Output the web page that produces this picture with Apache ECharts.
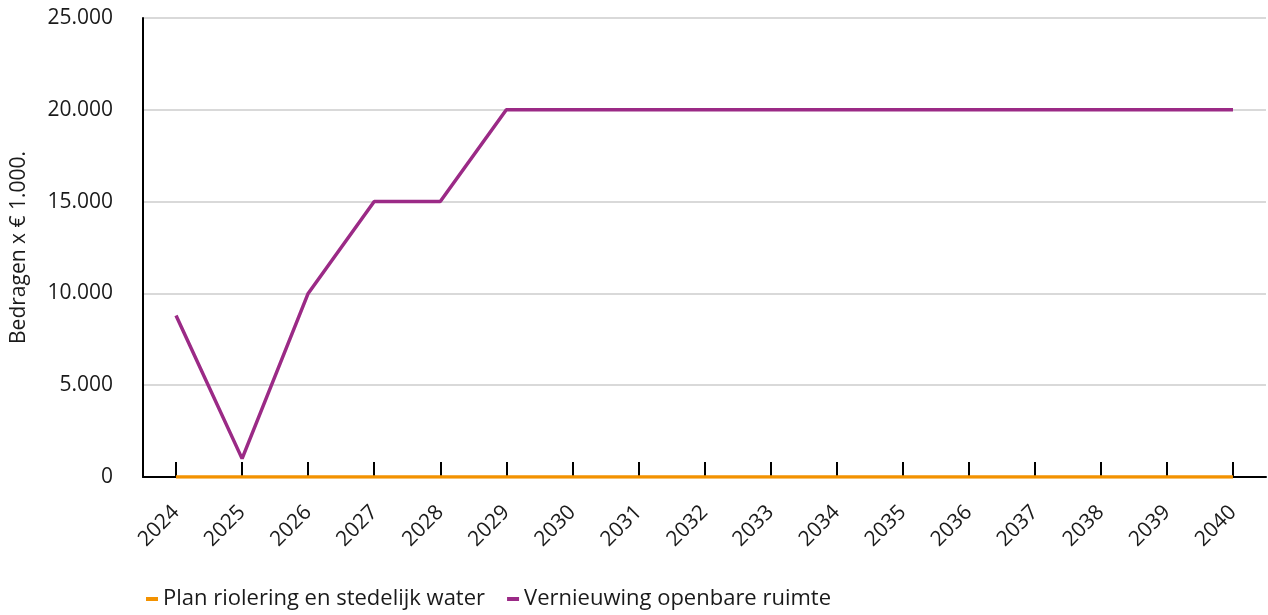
<!DOCTYPE html>
<html>
<head>
<meta charset="utf-8">
<script src="https://cdn.jsdelivr.net/npm/echarts@6/dist/echarts.min.js"></script>
<style>
  html, body { margin: 0; padding: 0; background: #ffffff; }
  #chart { width: 1268px; height: 615px; }
</style>
</head>
<body>
<div id="chart"></div>
<script>
// Jaren op de x-as
const years = ['2024','2025','2026','2027','2028','2029','2030','2031','2032','2033','2034','2035','2036','2037','2038','2039','2040'];

// Bedragen x € 1.000 per jaar
const rioleringWater = [0,0,0,0,0,0,0,0,0,0,0,0,0,0,0,0,0];
const openbareRuimte = [8800,1000,10000,15000,15000,20000,20000,20000,20000,20000,20000,20000,20000,20000,20000,20000,20000];

const seriesNames = ['Plan riolering en stedelijk water', 'Vernieuwing openbare ruimte'];
const colors = ['#f39200', '#9b2a86'];

const font = '"Open Sans", "Noto Sans", sans-serif';
const fmt = v => v === 0 ? '0' : v.toLocaleString('de-DE');

const chart = echarts.init(document.getElementById('chart'), null, { renderer: 'canvas' });
chart.setOption({
  animation: false,
  color: colors,
  grid: { left: 143, right: 2, top: 18, bottom: 138, containLabel: false, outerBoundsMode: 'none' },
  legend: {
    left: 141,
    bottom: 0,
    icon: 'rect',
    itemWidth: 12,
    itemHeight: 4,
    itemGap: 22,
    textStyle: { fontFamily: font, fontSize: 22, color: '#1a1a1a' },
    data: seriesNames
  },
  xAxis: {
    type: 'category',
    data: years,
    boundaryGap: true,
    axisLine: { lineStyle: { color: '#000000', width: 2 } },
    axisTick: { show: true, inside: true, length: 15, alignWithLabel: true, lineStyle: { color: '#000000', width: 2 } },
    axisLabel: { rotate: 45, margin: 32, fontFamily: font, fontSize: 21, color: '#1a1a1a', interval: 0 },
    splitLine: { show: false }
  },
  yAxis: {
    type: 'value',
    min: 0,
    max: 25000,
    interval: 5000,
    name: 'Bedragen x € 1.000.',
    nameLocation: 'middle',
    nameGap: 113,
    nameTextStyle: { fontFamily: font, fontSize: 21, color: '#1a1a1a' },
    axisLine: { show: true, lineStyle: { color: '#000000', width: 2 } },
    axisTick: { show: false },
    axisLabel: { margin: 30, fontFamily: font, fontSize: 21, color: '#1a1a1a', formatter: fmt },
    splitLine: { show: true, lineStyle: { color: '#d9d9d9', width: 2 } }
  },
  series: [
    {
      name: seriesNames[0],
      type: 'line',
      data: rioleringWater,
      symbol: 'none',
      lineStyle: { width: 3.5, color: colors[0] },
      z: 3
    },
    {
      name: seriesNames[1],
      type: 'line',
      data: openbareRuimte,
      symbol: 'none',
      lineStyle: { width: 3.5, color: colors[1] },
      z: 4
    }
  ]
});
</script>
</body>
</html>
